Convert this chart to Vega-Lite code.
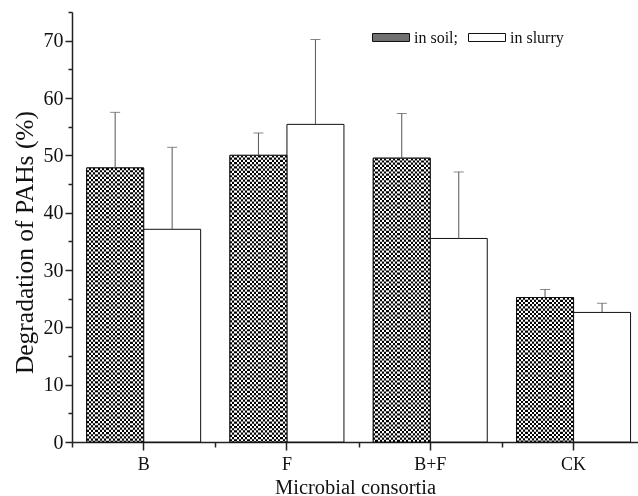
{
  "$schema": "https://vega.github.io/schema/vega-lite/v6.json",
  "width": 566,
  "height": 430,
  "autosize": {"type": "none"},
  "padding": {"left": 72, "top": 12, "right": 0, "bottom": 54},
  "background": "white",
  "config": {
    "view": {"stroke": null},
    "font": "Liberation Serif",
    "axis": {"labelFont": "Liberation Serif", "titleFont": "Liberation Serif", "labelColor": "#111", "titleColor": "#111", "titleFontWeight": "normal", "domainColor": "#222", "tickColor": "#222", "domainWidth": 1.5, "tickWidth": 1.5, "grid": false},
    "legend": {"labelFont": "Liberation Serif", "labelColor": "#111"}
  },
  "data": {"values": [
    {"group": "B", "series": "in soil", "value": 47.8, "upper": 57.5},
    {"group": "B", "series": "in slurry", "value": 37.1, "upper": 51.4},
    {"group": "F", "series": "in soil", "value": 50.0, "upper": 53.9},
    {"group": "F", "series": "in slurry", "value": 55.4, "upper": 70.2},
    {"group": "B+F", "series": "in soil", "value": 49.5, "upper": 57.3},
    {"group": "B+F", "series": "in slurry", "value": 35.5, "upper": 47.1},
    {"group": "CK", "series": "in soil", "value": 25.2, "upper": 26.6},
    {"group": "CK", "series": "in slurry", "value": 22.6, "upper": 24.2}
  ]},
  "layer": [
    {
      "mark": {"type": "bar", "strokeWidth": 1},
      "encoding": {
        "x": {"field": "group", "type": "nominal", "sort": ["B", "F", "B+F", "CK"],
          "scale": {"paddingInner": 0.2045, "paddingOuter": 0.0771, "align": 0.663},
          "axis": {"title": "Microbial consortia", "orient": "bottom", "labelAngle": 0, "labelFontSize": 18, "labelPadding": 5, "tickSize": 8, "titleFontSize": 20.5, "titleBaseline": "alphabetic", "titleY": 51}},
        "xOffset": {"field": "series", "type": "nominal", "sort": ["in soil", "in slurry"], "scale": {"paddingInner": 0, "paddingOuter": 0}},
        "y": {"field": "value", "type": "quantitative", "scale": {"domain": [0, 75], "nice": false},
          "axis": {"title": "Degradation of  PAHs (%)", "orient": "left", "values": [0, 10, 20, 30, 40, 50, 60, 70],
            "tickSize": 7, "labelFontSize": 20, "labelPadding": 2, "titleFontSize": 25.5, "titleX": -40, "titleY": 230, "titleBaseline": "alphabetic", "titleAlign": "center"}},
        "fill": {"field": "series", "type": "nominal", "sort": ["in soil", "in slurry"],
          "scale": {"domain": ["in soil", "in slurry"], "range": ["#707070", "white"]},
          "legend": {"title": null, "orient": "none", "legendX": 300, "legendY": 6.5, "direction": "horizontal", "padding": 0,
            "symbolType": "M-1,-0.216H1V0.216H-1Z", "symbolSize": 1369, "symbolStrokeWidth": 1,
            "labelFont": "Liberation Serif", "labelFontSize": 16, "labelOffset": 4, "columnPadding": 7,
            "labelExpr": "datum.value === 'in soil' ? 'in soil;' : datum.value"}},
        "stroke": {"field": "series", "type": "nominal", "sort": ["in soil", "in slurry"],
          "scale": {"domain": ["in soil", "in slurry"], "range": ["#111", "#111"]},
          "legend": {"title": null, "orient": "none", "legendX": 300, "legendY": 6.5, "direction": "horizontal", "padding": 0,
            "symbolType": "M-1,-0.216H1V0.216H-1Z", "symbolSize": 1369, "symbolStrokeWidth": 1,
            "labelFont": "Liberation Serif", "labelFontSize": 16, "labelOffset": 4, "columnPadding": 7,
            "labelExpr": "datum.value === 'in soil' ? 'in soil;' : datum.value"}}
      }
    },
    {
      "transform": [{"filter": "datum.series === 'in soil'"}],
      "mark": {"type": "bar", "strokeWidth": 0, "fill": {"gradient": "linear", "x1": 0, "y1": 0, "x2": 1, "y2": 0, "stops": [
        {"offset": 0.03846, "color": "black"}, {"offset": 0.03846, "color": "white"}, {"offset": 0.07692, "color": "white"}, {"offset": 0.07692, "color": "black"},
        {"offset": 0.11538, "color": "black"}, {"offset": 0.11538, "color": "white"}, {"offset": 0.15385, "color": "white"}, {"offset": 0.15385, "color": "black"},
        {"offset": 0.19231, "color": "black"}, {"offset": 0.19231, "color": "white"}, {"offset": 0.23077, "color": "white"}, {"offset": 0.23077, "color": "black"},
        {"offset": 0.26923, "color": "black"}, {"offset": 0.26923, "color": "white"}, {"offset": 0.30769, "color": "white"}, {"offset": 0.30769, "color": "black"},
        {"offset": 0.34615, "color": "black"}, {"offset": 0.34615, "color": "white"}, {"offset": 0.38462, "color": "white"}, {"offset": 0.38462, "color": "black"},
        {"offset": 0.42308, "color": "black"}, {"offset": 0.42308, "color": "white"}, {"offset": 0.46154, "color": "white"}, {"offset": 0.46154, "color": "black"},
        {"offset": 0.5, "color": "black"}, {"offset": 0.5, "color": "white"}, {"offset": 0.53846, "color": "white"}, {"offset": 0.53846, "color": "black"},
        {"offset": 0.57692, "color": "black"}, {"offset": 0.57692, "color": "white"}, {"offset": 0.61538, "color": "white"}, {"offset": 0.61538, "color": "black"},
        {"offset": 0.65385, "color": "black"}, {"offset": 0.65385, "color": "white"}, {"offset": 0.69231, "color": "white"}, {"offset": 0.69231, "color": "black"},
        {"offset": 0.73077, "color": "black"}, {"offset": 0.73077, "color": "white"}, {"offset": 0.76923, "color": "white"}, {"offset": 0.76923, "color": "black"},
        {"offset": 0.80769, "color": "black"}, {"offset": 0.80769, "color": "white"}, {"offset": 0.84615, "color": "white"}, {"offset": 0.84615, "color": "black"},
        {"offset": 0.88462, "color": "black"}, {"offset": 0.88462, "color": "white"}, {"offset": 0.92308, "color": "white"}, {"offset": 0.92308, "color": "black"},
        {"offset": 0.96154, "color": "black"}, {"offset": 0.96154, "color": "white"}, {"offset": 1, "color": "white"}
      ]}},
      "encoding": {
        "x": {"field": "group", "type": "nominal", "sort": ["B", "F", "B+F", "CK"], "axis": null},
        "xOffset": {"field": "series", "type": "nominal", "sort": ["in soil", "in slurry"]},
        "y": {"field": "value", "type": "quantitative", "axis": null}
      }
    },
    {
      "transform": [{"filter": "datum.series === 'in soil'"}],
      "mark": {"type": "rule", "color": "white", "strokeWidth": 57, "strokeDash": [2.2, 2.2], "strokeCap": "butt", "blend": "difference"},
      "encoding": {
        "x": {"field": "group", "type": "nominal", "sort": ["B", "F", "B+F", "CK"], "axis": null},
        "xOffset": {"field": "series", "type": "nominal", "sort": ["in soil", "in slurry"]},
        "y": {"field": "value", "type": "quantitative", "axis": null},
        "y2": {"datum": 0}
      }
    },
    {
      "transform": [{"filter": "datum.series === 'in soil'"}],
      "mark": {"type": "bar", "fill": "transparent", "stroke": "#111", "strokeWidth": 1},
      "encoding": {
        "x": {"field": "group", "type": "nominal", "sort": ["B", "F", "B+F", "CK"], "axis": null},
        "xOffset": {"field": "series", "type": "nominal", "sort": ["in soil", "in slurry"]},
        "y": {"field": "value", "type": "quantitative", "axis": null}
      }
    },
    {
      "mark": {"type": "rule", "color": "#555", "strokeWidth": 1},
      "encoding": {
        "x": {"field": "group", "type": "nominal", "sort": ["B", "F", "B+F", "CK"], "axis": null},
        "xOffset": {"field": "series", "type": "nominal", "sort": ["in soil", "in slurry"]},
        "y": {"field": "value", "type": "quantitative", "axis": null},
        "y2": {"field": "upper"}
      }
    },
    {
      "mark": {"type": "tick", "color": "#555", "thickness": 1, "size": 10},
      "encoding": {
        "x": {"field": "group", "type": "nominal", "sort": ["B", "F", "B+F", "CK"],
          "axis": {"orient": "bottom", "labels": false, "domain": false, "title": null, "tickSize": 5, "tickOffset": -71.65}},
        "xOffset": {"field": "series", "type": "nominal", "sort": ["in soil", "in slurry"]},
        "y": {"field": "upper", "type": "quantitative",
          "axis": {"orient": "left", "values": [5, 15, 25, 35, 45, 55, 65, 75], "labels": false, "domain": false, "title": null, "tickSize": 4}}
      }
    }
  ],
  "resolve": {"axis": {"x": "independent", "y": "independent"}}
}
